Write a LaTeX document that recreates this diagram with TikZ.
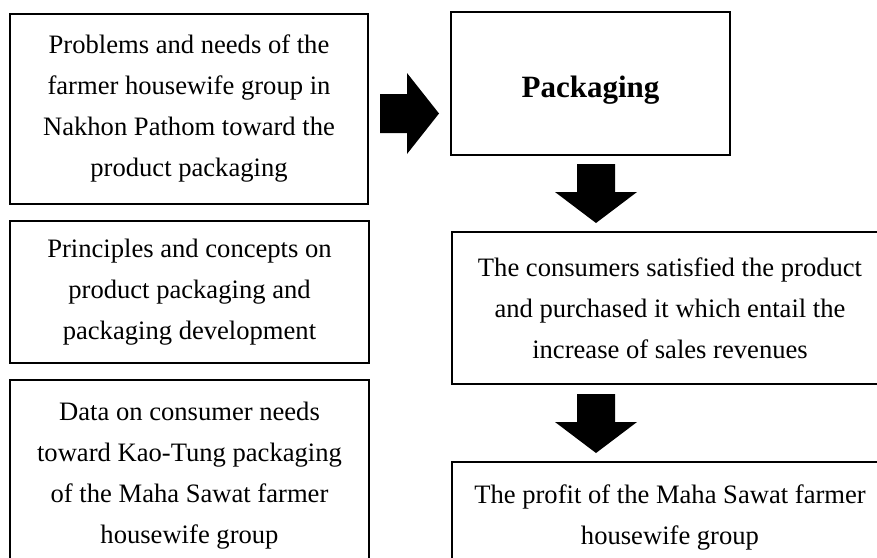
\documentclass[tikz,border=0pt]{standalone}
\usepackage{fontspec}
\setmainfont{Liberation Serif}
\begin{document}
\begin{tikzpicture}[
    x=0.5pt, y=-0.5pt,
    every node/.style={draw, line width=0.8pt, align=center, inner sep=0pt,
        font=\fontsize{13.3}{20.5}\selectfont},
    blockarrow/.style={fill=black, draw=none}
  ]
  \clip (0,0) rectangle (877,557);

  % left column
  \node[minimum width=179pt, minimum height=95pt] (problems) at (189,109)
    {Problems and needs of the\\ farmer housewife group in\\ Nakhon Pathom toward the\\ product packaging};
  \node[minimum width=179.5pt, minimum height=71pt] (principles) at (189.5,292)
    {Principles and concepts on\\ product packaging and\\ packaging development};
  \node[minimum width=179.5pt, minimum height=96pt] (data) at (189.5,476)
    {Data on consumer needs\\ toward Kao-Tung packaging\\ of the Maha Sawat farmer\\ housewife group};

  % right column
  \node[minimum width=139.5pt, minimum height=71.5pt, text height=17pt, text depth=3.5pt,
        font=\fontsize{15.5}{18}\selectfont\bfseries] (packaging) at (590.5,83.5) {Packaging};
  \node[minimum width=218pt, minimum height=76pt] (consumers) at (670,308)
    {The consumers satisfied the product\\ and purchased it which entail the\\ increase of sales revenues};
  \node[minimum width=218pt, minimum height=55pt] (profit) at (670,517)
    {The profit of the Maha Sawat farmer\\ housewife group};

  % block arrows
  \fill[blockarrow] (380,94) -- (407,94) -- (407,73) -- (439,113.5) -- (407,154)
    -- (407,133) -- (380,133) -- cycle;
  \foreach \ytop in {164,394}
    \fill[blockarrow] (577,\ytop) -- (615,\ytop) -- (615,\ytop+28) -- (637,\ytop+28)
      -- (596,\ytop+59) -- (555,\ytop+28) -- (577,\ytop+28) -- cycle;
\end{tikzpicture}
\end{document}
